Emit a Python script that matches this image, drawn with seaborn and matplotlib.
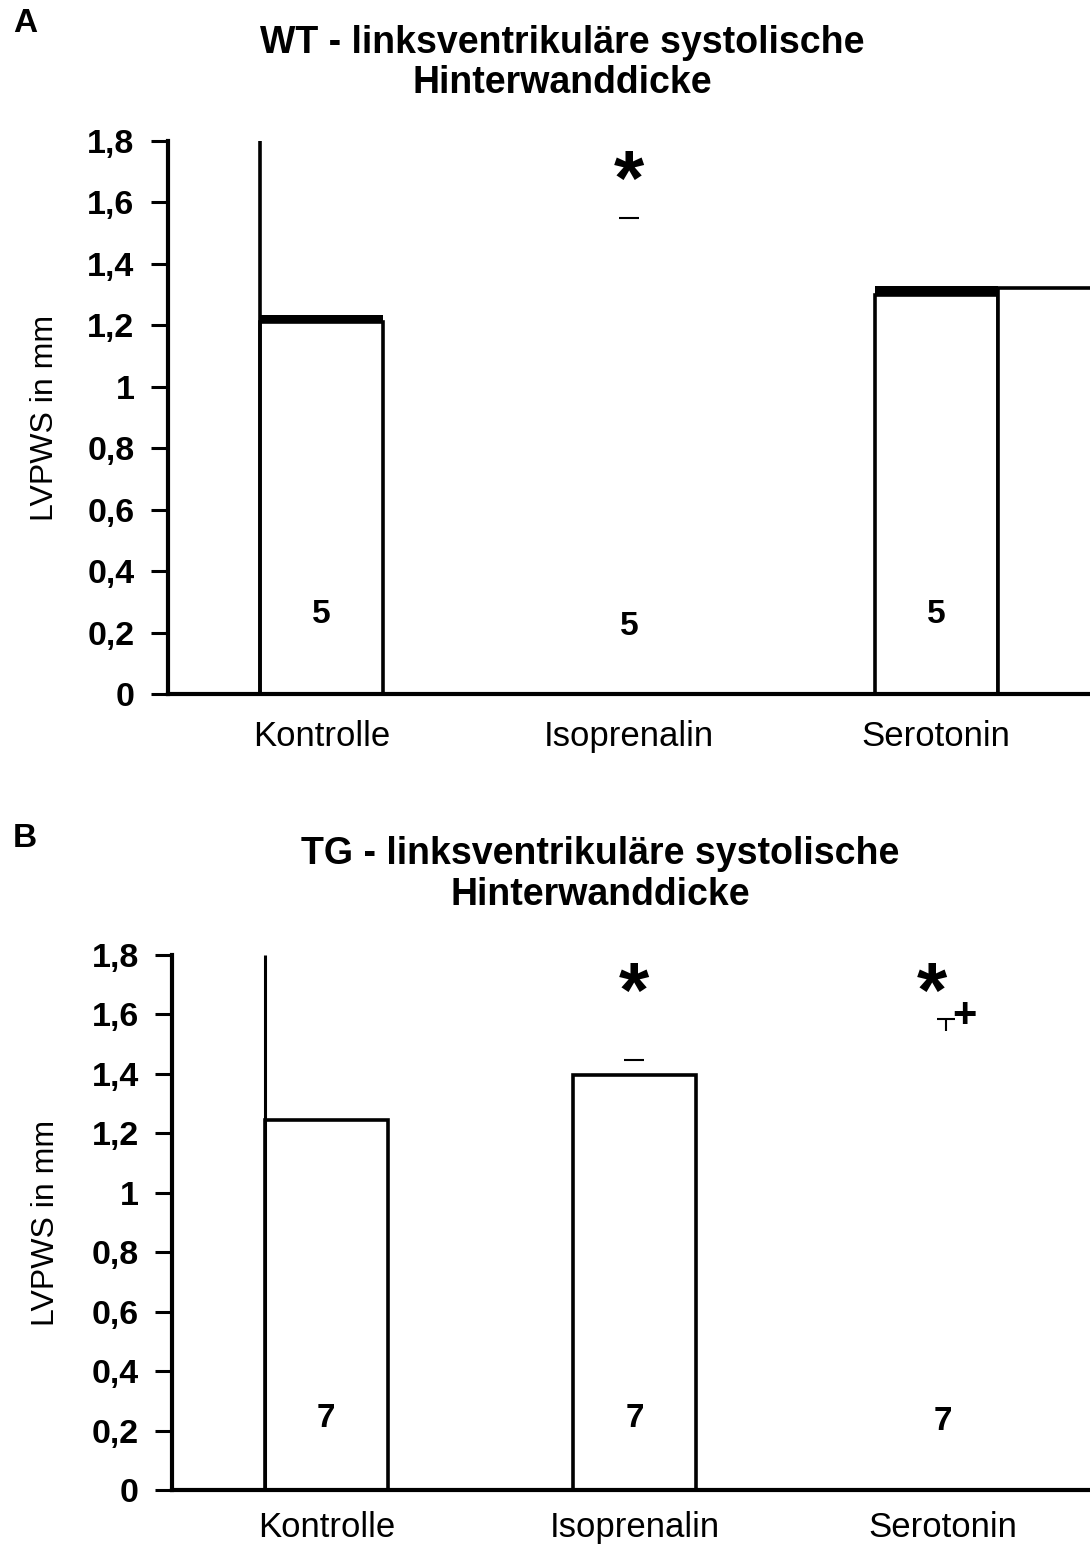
import numpy as np
import pandas as pd
import matplotlib
matplotlib.use("Agg")
import matplotlib.pyplot as plt
import seaborn as sns

sns.set_style("white")
plt.rcParams['font.family'] = ['Liberation Sans', 'DejaVu Sans']
plt.rcParams['text.color'] = 'black'
plt.rcParams['axes.labelcolor'] = 'black'
plt.rcParams['xtick.color'] = 'black'
plt.rcParams['ytick.color'] = 'black'

# ---------------- data ----------------
categories = ["Kontrolle", "Isoprenalin", "Serotonin"]
ytick_values = [0, 0.2, 0.4, 0.6, 0.8, 1.0, 1.2, 1.4, 1.6, 1.8]
ytick_labels = ["0", "0,2", "0,4", "0,6", "0,8", "1", "1,2", "1,4", "1,6", "1,8"]

# Panel A (WT)
wt_title = "WT - linksventrikuläre systolische\nHinterwanddicke"
wt_means = [1.21, np.nan, 1.30]          # Isoprenalin bar not rendered
wt_band_top = [1.235, np.nan, 1.328]     # thick band on top of bars
wt_caps = [np.nan, 1.55, np.nan]         # lone error caps
wt_extra_bar = 1.32                       # partial bar right of Serotonin
wt_n = ["5", "5", "5"]
wt_n_y = [0.26, 0.22, 0.26]
wt_stars = ["", "*", ""]
wt_star_y = [np.nan, 1.66, np.nan]

# Panel B (TG)
tg_title = "TG - linksventrikuläre systolische\nHinterwanddicke"
tg_means = [1.245, 1.395, np.nan]        # Serotonin bar not rendered
tg_caps = [np.nan, 1.447, np.nan]
tg_tcap = [np.nan, np.nan, 1.585]         # small T-shaped error bar
tg_tcap_low = [np.nan, np.nan, 1.545]
tg_n = ["7", "7", "7"]
tg_n_y = [0.24, 0.24, 0.23]
tg_stars = ["", "*", "*"]
tg_star_y = [np.nan, 1.66, 1.66]
tg_plus = ["", "", "+"]
tg_plus_y = [np.nan, np.nan, 1.595]

y_top = 1.8
bar_w = 0.4

fig = plt.figure(figsize=(10.9, 15.49), dpi=100)
axA = fig.add_axes([0.154, 0.552, 0.846, 0.357])
axB = fig.add_axes([0.158, 0.038, 0.848, 0.3455])


def style_axis(ax, label_x, xpad):
    ax.set_xlim(-0.5, 2.5)
    ax.set_ylim(0, y_top)
    ax.set_yticks(ytick_values)
    ax.set_yticklabels(ytick_labels, fontsize=24.5, fontweight="bold")
    ax.set_xticks(range(len(categories)))
    ax.set_xticklabels(categories, fontsize=25)
    ax.tick_params(axis="y", length=12, width=2.2, pad=12, direction="out", left=True, colors="black")
    ax.tick_params(axis="x", length=0, pad=xpad, colors="black")
    for s in ["top", "right"]:
        ax.spines[s].set_visible(False)
    for s in ["left", "bottom"]:
        ax.spines[s].set_color("black")
        ax.spines[s].set_linewidth(3)
    ax.set_xlabel("")
    ax.set_ylabel("LVPWS in mm", fontsize=23, color="black")
    ax.yaxis.set_label_coords(label_x, 0.5)


def draw_bars(ax, means):
    df = pd.DataFrame({"cat": categories, "val": means})
    sns.barplot(data=df, x="cat", y="val", order=categories, ax=ax,
                width=bar_w, color="white", edgecolor="black",
                linewidth=2.6, errorbar=None, clip_on=False)


# ---------------- Panel A ----------------
draw_bars(axA, wt_means)
pos = np.arange(len(categories))
band_h = np.array(wt_band_top) - np.array(wt_means)
axA.bar(pos, band_h, bottom=wt_means, width=bar_w, color="black", linewidth=0)
axA.bar(pos[-1] + bar_w, wt_extra_bar, width=bar_w, color="white",
        edgecolor="black", linewidth=2.6)
axA.vlines(pos[0] - bar_w / 2, 0, y_top, color="black", linewidth=2.6)
axA.plot(pos, wt_caps, linestyle="none", marker="_", markersize=14,
         markeredgewidth=1.5, color="black")
for i in range(len(categories)):
    axA.text(pos[i], wt_n_y[i], wt_n[i], ha="center", va="center",
             fontsize=24, fontweight="bold")
    if wt_stars[i]:
        axA.text(pos[i], wt_star_y[i], wt_stars[i], ha="center", va="center",
                 fontsize=56, fontweight="bold")
style_axis(axA, -0.117, 19)

# ---------------- Panel B ----------------
draw_bars(axB, tg_means)
axB.vlines(pos[0] - bar_w / 2, 0, y_top, color="black", linewidth=2.2)
axB.plot(pos, tg_caps, linestyle="none", marker="_", markersize=14,
         markeredgewidth=1.5, color="black")
axB.vlines(pos + 0.013, tg_tcap_low, tg_tcap, color="black", linewidth=1.5)
axB.plot(pos + 0.013, tg_tcap, linestyle="none", marker="_", markersize=13,
         markeredgewidth=1.5, color="black")
for i in range(len(categories)):
    axB.text(pos[i], tg_n_y[i], tg_n[i], ha="center", va="center",
             fontsize=24, fontweight="bold")
    if tg_stars[i]:
        dx = -0.035 if tg_plus[i] else 0.0
        axB.text(pos[i] + dx, tg_star_y[i], tg_stars[i], ha="center", va="center",
                 fontsize=56, fontweight="bold")
    if tg_plus[i]:
        axB.text(pos[i] + 0.07, tg_plus_y[i], tg_plus[i], ha="center", va="center",
                 fontsize=30, fontweight="bold")
style_axis(axB, -0.12, 15)

# ---------------- titles & panel letters ----------------
fig.text(0.516, 0.9595, wt_title, ha="center", va="center", fontsize=27,
         fontweight="bold", linespacing=1.15)
fig.text(0.551, 0.4355, tg_title, ha="center", va="center", fontsize=27,
         fontweight="bold", linespacing=1.15)
fig.text(0.023, 0.985, "A", ha="center", va="center", fontsize=24, fontweight="bold")
fig.text(0.023, 0.459, "B", ha="center", va="center", fontsize=24, fontweight="bold")

fig.savefig("out.png", dpi=100, facecolor="white")
